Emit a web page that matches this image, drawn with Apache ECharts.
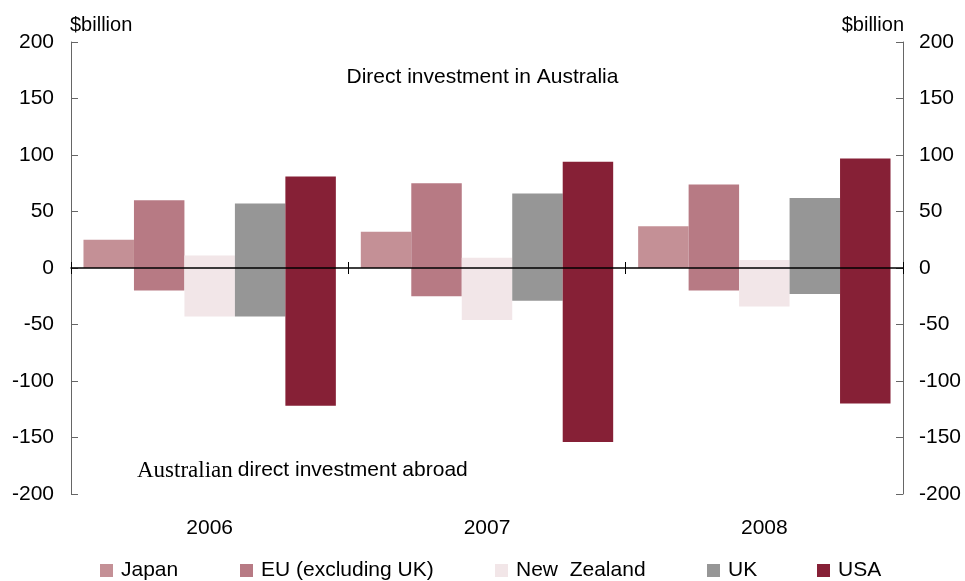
<!DOCTYPE html>
<html>
<head>
<meta charset="utf-8">
<script src="https://cdn.jsdelivr.net/npm/echarts@6/dist/echarts.min.js"></script>
<style>html,body{margin:0;padding:0;background:#fff}#c{width:965px;height:581px}</style>
</head>
<body>
<div id="c"></div>
<script>
const years = ['2006', '2007', '2008'];
const yTicks = [-200, -150, -100, -50, 0, 50, 100, 150, 200];
const countries = ['Japan', 'EU (excluding UK)', 'New  Zealand', 'UK', 'USA'];
// Direct investment in Australia (positive)
const japanIn = [25, 32, 37];
const euIn = [60, 75, 74];
const nzIn = [11, 9, 7];
const ukIn = [57, 66, 62];
const usaIn = [81, 94, 97];
// Australian direct investment abroad (negative)
const japanOut = [0, 0, 0];
const euOut = [-20, -25, -20];
const nzOut = [-43, -46, -34];
const ukOut = [-43, -29, -23];
const usaOut = [-122, -154, -120];

const colors = ['#c49096', '#b77a84', '#f2e6e8', '#969696', '#862036'];
const inData = [japanIn, euIn, nzIn, ukIn, usaIn];
const outData = [japanOut, euOut, nzOut, ukOut, usaOut];

const series = [];
countries.forEach((c, i) => {
  [inData[i], outData[i]].forEach(d => {
    series.push({
      name: c, type: 'bar', stack: 's' + i, data: d,
      xAxisIndex: 0, yAxisIndex: 0,
      itemStyle: { color: colors[i] },
      barGap: '0%', barCategoryGap: '9%',
      emphasis: { disabled: true }, z: 2
    });
  });
});

const font = 'Liberation Sans, Arial';
const legendLefts = [100, 240, 495, 707, 817];
const legends = countries.map((c, i) => ({
  data: [c], left: legendLefts[i], top: 560, padding: 0, itemWidth: 13, itemHeight: 13,
  icon: 'rect', itemGap: 0,
  textStyle: { fontFamily: font, fontSize: 21, lineHeight: 21, color: '#000', padding: [0, 0, 0, 3] },
  selectedMode: false
}));

const chart = echarts.init(document.getElementById('c'), null, { renderer: 'canvas' });
chart.setOption({
  animation: false,
  backgroundColor: '#fff',
  color: colors,
  grid: { left: 71, right: 62, top: 42, bottom: 87, containLabel: false },
  legend: legends,
  title: [
    { text: 'Direct investment in Australia', left: 'center', top: 67, padding: 0,
      textStyle: { fontFamily: font, fontSize: 21, fontWeight: 'normal', color: '#000' } },
    { text: '{a|Australian} {b|direct investment abroad}', left: 137, top: 459, padding: 0,
      textStyle: { fontWeight: 'normal', rich: {
        a: { fontFamily: 'Liberation Serif, Times New Roman', fontSize: 23, fontWeight: 'normal', color: '#000' },
        b: { fontFamily: font, fontSize: 21, fontWeight: 'normal', color: '#000' } } } }
  ],
  xAxis: [
    { type: 'category', data: years, position: 'bottom', axisLine: { show: false, onZero: false },
      axisTick: { show: false }, boundaryGap: true,
      axisLabel: { fontFamily: font, fontSize: 21, color: '#000', margin: 24 } },
    { type: 'category', data: years, position: 'bottom', boundaryGap: true,
      axisLine: { show: true, onZero: true, lineStyle: { color: '#000', width: 1.5 } },
      axisTick: { show: true, inside: true, length: 6, lineStyle: { color: '#000', width: 1 } },
      axisLabel: { show: false }, z: 5 },
    { type: 'category', data: years, position: 'bottom', boundaryGap: true,
      axisLine: { show: false, onZero: true },
      axisTick: { show: true, inside: false, length: 6, lineStyle: { color: '#000', width: 1 } },
      axisLabel: { show: false }, z: 5 }
  ],
  yAxis: [
    { type: 'value', min: -200, max: 200, interval: 50, position: 'left',
      name: '$billion', nameLocation: 'end', nameGap: 7,
      nameTextStyle: { fontFamily: font, fontSize: 20, color: '#000', align: 'left', verticalAlign: 'bottom', padding: [0, 0, 0, -1] },
      axisLine: { show: true, lineStyle: { color: '#666', width: 1 } },
      axisTick: { show: true, inside: true, length: 7, lineStyle: { color: '#666' } },
      axisLabel: { fontFamily: font, fontSize: 21, color: '#000', margin: 17 },
      splitLine: { show: false } },
    { type: 'value', min: -200, max: 200, interval: 50, position: 'right',
      name: '$billion', nameLocation: 'end', nameGap: 7,
      nameTextStyle: { fontFamily: font, fontSize: 20, color: '#000', align: 'right', verticalAlign: 'bottom', padding: [0, -1, 0, 0] },
      axisLine: { show: true, lineStyle: { color: '#666', width: 1 } },
      axisTick: { show: true, inside: true, length: 7, lineStyle: { color: '#666' } },
      axisLabel: { fontFamily: font, fontSize: 21, color: '#000', margin: 16 },
      splitLine: { show: false } }
  ],
  series: series
});
</script>
</body>
</html>
